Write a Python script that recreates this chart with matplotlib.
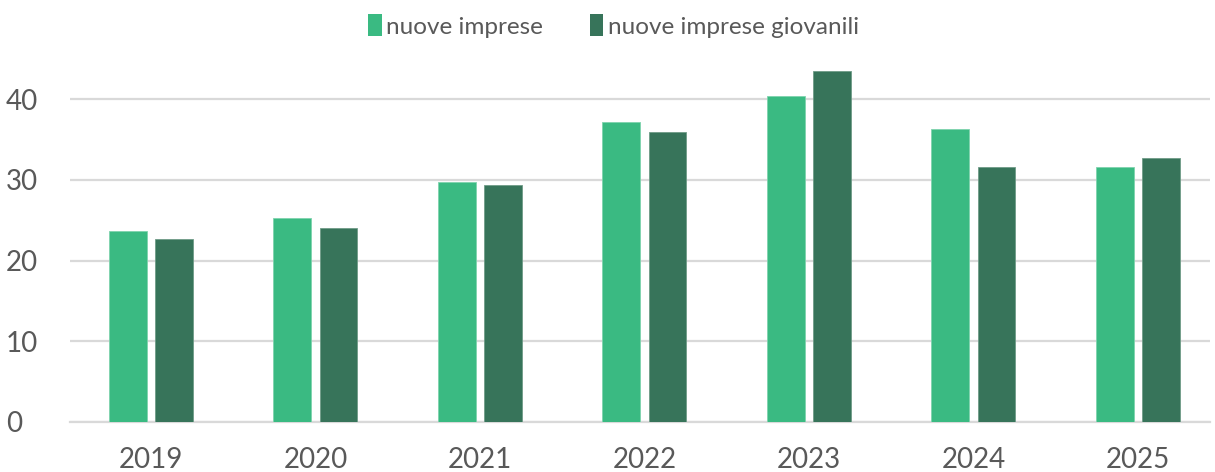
import numpy as np
import matplotlib
matplotlib.use("Agg")
import matplotlib.pyplot as plt
from matplotlib.patches import Patch

# ─── data ────────────────────────────────────────────────────────
years = ["2019", "2020", "2021", "2022", "2023", "2024", "2025"]
nuove_imprese = [23.7, 25.3, 29.8, 37.2, 40.4, 36.3, 31.6]
nuove_giovanili = [22.7, 24.1, 29.4, 35.9, 43.5, 31.6, 32.7]
yticks = [0, 10, 20, 30, 40]

C_LIGHT = "#3aba82"
C_DARK = "#37745a"
GRID = "#d9d9d9"
TXT = "#595959"

plt.rcParams["font.family"] = ["Lato", "DejaVu Sans"]

fig = plt.figure(figsize=(12.15, 4.72), dpi=100)
ax = fig.add_axes([70 / 1215, 50 / 472, 1140 / 1215, 363 / 472])

x = np.arange(len(years))
w = 0.23
off = 0.14
ax.bar(x - off, nuove_imprese, w, color=C_LIGHT, edgecolor="#7fd3ad",
       linewidth=0.6, zorder=3)
ax.bar(x + off, nuove_giovanili, w, color=C_DARK, edgecolor="#6f9c88",
       linewidth=0.6, zorder=3)

ax.set_xlim(-0.492, 6.438)
ax.set_ylim(0, 45)
ax.set_yticks(yticks)
ax.set_xticks(x)
ax.set_xticklabels(years)
ax.yaxis.grid(True, color=GRID, linewidth=1.6, zorder=0)
ax.set_axisbelow(True)
for s in ("top", "right", "left"):
    ax.spines[s].set_visible(False)
ax.spines["bottom"].set_color(GRID)
ax.spines["bottom"].set_linewidth(1.6)
ax.tick_params(axis="both", length=0, labelsize=20, colors=TXT)
ax.tick_params(axis="x", pad=18)
ax.tick_params(axis="y", pad=46)
for lbl in ax.get_yticklabels():
    lbl.set_horizontalalignment("left")

handles = [Patch(facecolor=C_LIGHT, label="nuove imprese"),
           Patch(facecolor=C_DARK, label="nuove imprese giovanili")]
fig.legend(handles=handles, loc="center", bbox_to_anchor=(0.505, 0.945),
           ncol=2, frameon=False, fontsize=17.5, handlelength=0.55,
           handleheight=1.0, handletextpad=0.2, columnspacing=1.9,
           labelcolor=TXT)

fig.savefig("out.png", dpi=100)
